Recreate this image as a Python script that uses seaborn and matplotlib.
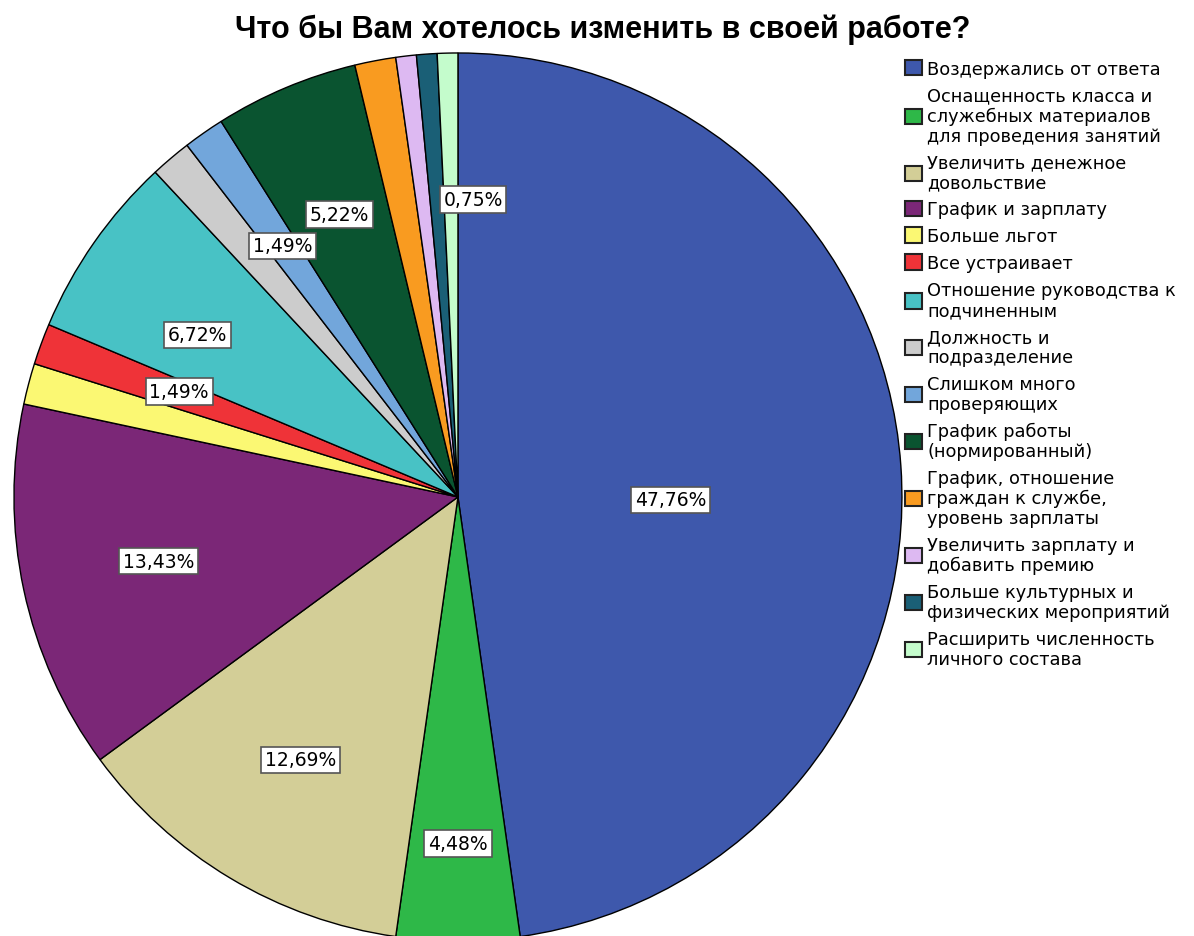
import seaborn as sns
import matplotlib.pyplot as plt
import numpy as np

# Answers (counts, n = 134), in the chart's order, clockwise from 12 o'clock
categories = [
    "Воздержались от ответа",
    "Оснащенность класса и\nслужебных материалов\nдля проведения занятий",
    "Увеличить денежное\nдовольствие",
    "График и зарплату",
    "Больше льгот",
    "Все устраивает",
    "Отношение руководства к\nподчиненным",
    "Должность и\nподразделение",
    "Слишком много\nпроверяющих",
    "График работы\n(нормированный)",
    "График, отношение\nграждан к службе,\nуровень зарплаты",
    "Увеличить зарплату и\nдобавить премию",
    "Больше культурных и\nфизических мероприятий",
    "Расширить численность\nличного состава",
]
counts = [64, 6, 17, 18, 2, 2, 9, 2, 2, 7, 2, 1, 1, 1]
colors = ["#3E58AC", "#2EB848", "#D3CE97", "#7B2777", "#FBF873", "#EF3338",
          "#48C2C5", "#CCCCCC", "#72A6DB", "#0A5430", "#F99B20", "#DDB9F2",
          "#1A5F76", "#C4FCCC"]
# which slice labels are shown (the rest are hidden, as in the original)
shown = [True, True, True, True, False, True, True, False, True, True,
         False, False, False, True]

sns.set_theme(style="white")
plt.rcParams['font.family'] = ['DejaVu Sans']
plt.rcParams['text.color'] = 'black'

fig = plt.figure(figsize=(11.94, 9.37), dpi=100)
ax = fig.add_axes([0.0117, -0.0053, 0.7437, 0.9477])

wedges, texts, autotexts = ax.pie(
    counts, colors=colors, startangle=90, counterclock=False,
    autopct=lambda p: f"{p:.2f}%".replace('.', ','), pctdistance=0.69,
    wedgeprops=dict(edgecolor='black', linewidth=1.0),
    textprops=dict(fontsize=13.5, color='black'))
ax.set_xlim(-1, 1)
ax.set_ylim(-1, 1)
ax.set_aspect('equal')

# position tweaks for a few labels (radial scale, extra x/y shift)
radial = {0: 0.48 / 0.69, 1: 0.78 / 0.69}
nudge = {0: (0.0, -0.04), 5: (0.02, 0.0), 6: (-0.02, -0.03), 13: (0.05, -0.02)}
for i, t in enumerate(autotexts):
    t.set_visible(shown[i])
    x, y = t.get_position()
    s = radial.get(i, 1.0)
    dx, dy = nudge.get(i, (0.0, 0.0))
    t.set_position((x * s + dx, y * s + dy))
    t.set_bbox(dict(boxstyle='square,pad=0.2', facecolor='white',
                    edgecolor='#555555', linewidth=1.2))

fig.suptitle("Что бы Вам хотелось изменить в своей работе?", x=0.505, y=0.984,
             fontsize=22, fontweight='bold', family='Liberation Sans',
             color='black')

leg = fig.legend(wedges, categories, loc='upper left',
                 bbox_to_anchor=(0.752, 0.943), frameon=False,
                 fontsize=12.8, handlelength=0.95, handleheight=0.95,
                 handletextpad=0.3, labelspacing=0.5, borderaxespad=0)
for t in leg.get_texts():
    t.set_color('black')
    t.set_linespacing(1.14)
for h in leg.legend_handles:
    h.set_edgecolor('#222222')
    h.set_linewidth(1.5)

fig.savefig('out.png', dpi=100)
